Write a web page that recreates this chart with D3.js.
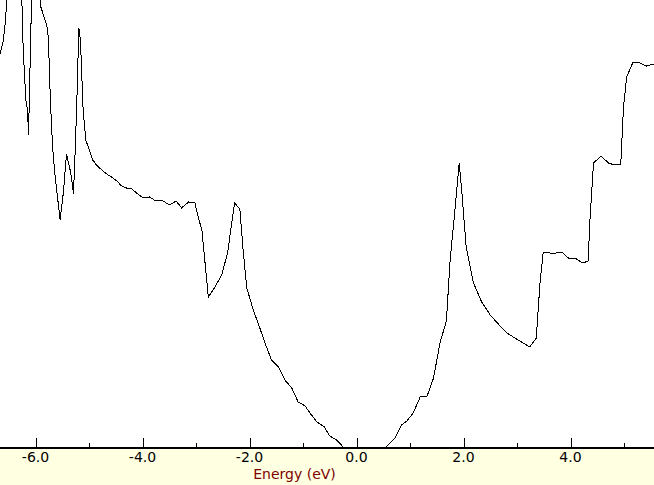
<!DOCTYPE html>
<html>
<head>
<meta charset="utf-8">
<script src="https://cdn.jsdelivr.net/npm/d3@7"></script>
<style>
  html, body { margin: 0; padding: 0; background: #ffffff; }
  svg { display: block; }
</style>
</head>
<body>
<div id="chart"></div>
<script>
// Energy (eV) sample points
const energy = [
  -6.66, -6.60, -6.57, -6.52, -6.26, -6.23, -6.18, -6.15, -6.13, -6.12,
  -6.10, -6.07, -5.93, -5.90, -5.79, -5.76, -5.72, -5.68, -5.64, -5.54,
  -5.48, -5.42, -5.34, -5.29, -5.26, -5.23, -5.19, -5.16, -5.11, -5.06,
  -4.93, -4.86, -4.76, -4.67, -4.58, -4.48, -4.39, -4.30, -4.20, -4.11,
  -3.99, -3.87, -3.75, -3.64, -3.50, -3.37, -3.27, -3.14, -3.02, -2.96,
  -2.89, -2.77, -2.68, -2.52, -2.41, -2.28, -2.18, -2.12, -2.05, -1.93,
  -1.84, -1.71, -1.59, -1.46, -1.34, -1.21, -1.09, -0.96, -0.87, -0.74,
  -0.60, -0.50, -0.37, -0.25, -0.12, 0.44, 0.53, 0.63, 0.72, 0.84,
  0.94, 1.06, 1.19, 1.32, 1.44, 1.56, 1.68, 1.75, 1.84, 1.92,
  1.97, 2.05, 2.18, 2.34, 2.50, 2.65, 2.81, 2.99, 3.24, 3.36,
  3.43, 3.49, 3.62, 3.73, 3.84, 3.96, 4.08, 4.23, 4.33, 4.36,
  4.43, 4.57, 4.71, 4.82, 4.94, 4.99, 5.05, 5.17, 5.30, 5.42,
  5.55, 5.58
];
// Density of states (arbitrary units) at each energy
const dos = [
  39.4, 40.8, 42.3, 45.8, 45.8, 39.8, 34.8, 33.8, 31.3, 33.8,
  38.6, 45.8, 45.8, 44.1, 42.3, 41.1, 34.5, 30.1, 27.5, 22.8,
  25.5, 29.4, 27.5, 25.4, 29.5, 34.1, 42.0, 40.8, 33.8, 30.8,
  28.8, 28.3, 27.8, 27.4, 27.1, 26.7, 26.2, 26.0, 25.9, 25.5,
  25.0, 25.1, 24.7, 24.8, 24.3, 24.7, 24.0, 24.6, 24.5, 23.1,
  21.8, 15.1, 15.8, 17.3, 19.5, 24.5, 23.9, 19.8, 16.0, 13.8,
  12.5, 10.5, 8.8, 8.1, 6.8, 6.0, 4.6, 4.2, 3.5, 2.6,
  2.1, 1.2, 0.8, 0.1, -0.4, -0.4, 0.0, 0.5, 1.0, 2.3,
  2.7, 3.5, 5.1, 5.2, 7.0, 10.5, 12.7, 18.8, 23.8, 28.5,
  25.5, 20.1, 16.6, 14.6, 13.3, 12.4, 11.5, 10.9, 10.1, 11.0,
  16.5, 19.6, 19.5, 19.5, 19.6, 19.0, 19.0, 18.5, 18.7, 22.5,
  28.5, 29.2, 28.5, 28.3, 28.4, 34.1, 37.1, 38.6, 38.5, 38.2,
  38.4, 38.4
];
const majorTicks = [-6, -4, -2, 0, 2, 4];
const minorTicks = [-5, -3, -1, 1, 3, 5];
const tickLabels = ["-6.0", "-4.0", "-2.0", "0.0", "2.0", "4.0"];
const xTitle = "Energy (eV)";

const W = 654, H = 485, axisY = 448;

const svg = d3.select("#chart").append("svg")
  .attr("width", W).attr("height", H);

const x = d3.scaleLinear().domain([-6.6636, 5.5607]).range([0, W]);
const y = d3.scaleLinear().domain([0, 44.8]).range([axisY, 0]);

svg.append("rect").attr("x", 0).attr("y", 0).attr("width", W).attr("height", axisY)
  .attr("fill", "#ffffff");

svg.append("defs").append("clipPath").attr("id", "plotclip")
  .append("rect").attr("x", 0).attr("y", 0).attr("width", W).attr("height", axisY);

const pts = energy.map((e, i) => [e, dos[i]]);
const line = d3.line().x(d => x(d[0])).y(d => y(d[1]));

svg.append("path")
  .datum(pts)
  .attr("clip-path", "url(#plotclip)")
  .attr("fill", "none")
  .attr("stroke", "#000")
  .attr("stroke-width", 1)
  .attr("shape-rendering", "crispEdges")
  .attr("d", line);

// bottom band
svg.append("rect").attr("x", 0).attr("y", axisY + 1).attr("width", W).attr("height", H - axisY - 1)
  .attr("fill", "#ffffe1");

// axis ticks
const axisG = svg.append("g").attr("transform", `translate(0,${axisY})`);
const ax = d3.axisTop(x).tickValues(majorTicks).tickSize(10).tickFormat("");
axisG.call(ax);
axisG.select(".domain").remove();
axisG.selectAll(".tick line").attr("stroke", "#000").attr("stroke-width", 1)
  .attr("shape-rendering", "crispEdges");
const axMinor = d3.axisTop(x).tickValues(minorTicks).tickSize(5).tickFormat("");
const minorG = svg.append("g").attr("transform", `translate(0,${axisY})`).call(axMinor);
minorG.select(".domain").remove();
minorG.selectAll(".tick line").attr("stroke", "#000").attr("shape-rendering", "crispEdges");

svg.append("line").attr("x1", 0).attr("x2", W).attr("y1", axisY).attr("y2", axisY)
  .attr("stroke", "#000").attr("stroke-width", 2);

// tick labels
svg.append("g").selectAll("text").data(majorTicks).join("text")
  .attr("x", d => x(d))
  .attr("y", 462)
  .attr("text-anchor", "middle")
  .attr("font-family", "DejaVu Sans, sans-serif")
  .attr("font-size", 14)
  .attr("fill", "#000")
  .text((d, i) => tickLabels[i]);

svg.append("text")
  .attr("x", 294.5)
  .attr("y", 479)
  .attr("text-anchor", "middle")
  .attr("font-family", "DejaVu Sans, sans-serif")
  .attr("font-size", 14)
  .attr("fill", "#800000")
  .text(xTitle);
</script>
</body>
</html>
